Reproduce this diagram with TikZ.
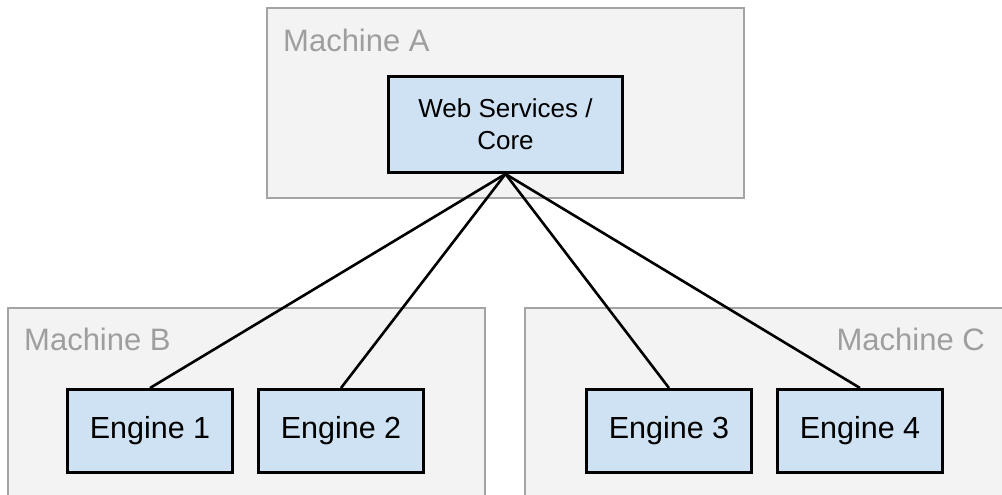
\documentclass[tikz,border=0pt]{standalone}
\usepackage{fontspec}
\setmainfont{Liberation Sans}
\definecolor{machinefill}{HTML}{F3F3F3}
\definecolor{machineline}{HTML}{A4A4A4}
\definecolor{machinetext}{HTML}{9E9E9E}
\definecolor{enginefill}{HTML}{CFE2F3}
\tikzset{
  machine/.style={draw=machineline, fill=machinefill, line width=2pt, anchor=north west, inner sep=0pt},
  machinelabel/.style={text=machinetext, inner sep=0pt, font=\fontsize{31}{37}\selectfont},
  engine/.style={draw=black, fill=enginefill, line width=3pt, anchor=north west, inner sep=0pt,
    minimum width=165pt, minimum height=83pt, font=\fontsize{30.5}{36}\selectfont},
  corebox/.style={draw=black, fill=enginefill, line width=3pt, anchor=north west, inner sep=0pt,
    minimum width=234pt, minimum height=96pt, align=center, font=\fontsize{26}{32}\selectfont},
  link/.style={draw=black, line width=2.6pt}
}
\begin{document}
\begin{tikzpicture}[x=1pt, y=-1pt]
  \useasboundingbox (0,0) rectangle (1002,495);
  \begin{scope}
    \clip (0,0) rectangle (1002,495);
    % machine frames
    \node[machine, minimum width=477pt, minimum height=190pt] (machA) at (266,7) {};
    \node[machine, minimum width=477pt, minimum height=200pt] (machB) at (7,307) {};
    \node[machine, minimum width=490pt, minimum height=200pt] (machC) at (524,307) {};
    % machine labels
    \node[machinelabel, anchor=base west] (labA) at (283,52) {Machine A};
    \node[machinelabel, anchor=base west] (labB) at (24,350) {Machine B};
    \node[machinelabel, anchor=base east] (labC) at (985,350) {Machine C};
    % core service
    \node[corebox] (core) at (387,75) {Web Services /\\Core};
    % engines
    \node[engine] (eng1) at (66,388) {Engine 1};
    \node[engine] (eng2) at (257,388) {Engine 2};
    \node[engine] (eng3) at (585,388) {Engine 3};
    \node[engine] (eng4) at (776,388) {Engine 4};
    % links from core to each engine
    \draw[link] (core.south) -- (eng1.north);
    \draw[link] (core.south) -- (eng2.north);
    \draw[link] (core.south) -- (eng3.north);
    \draw[link] (core.south) -- (eng4.north);
  \end{scope}
\end{tikzpicture}
\end{document}
